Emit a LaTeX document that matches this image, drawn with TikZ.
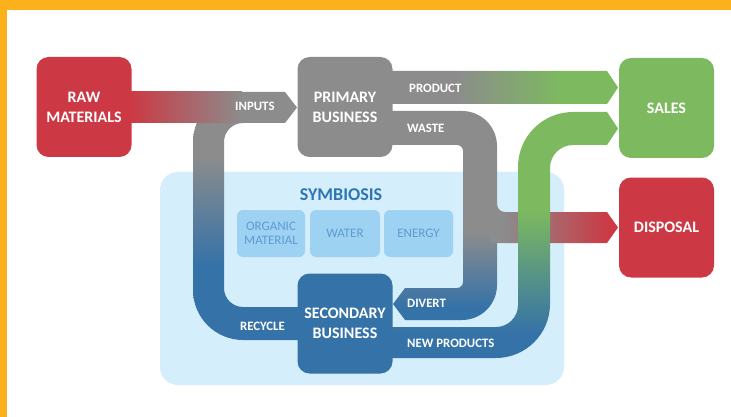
\documentclass[tikz,border=0pt]{standalone}
\usepackage{fontspec}
\setmainfont{Carlito}
\usepackage{tikz}

\definecolor{rawred}{HTML}{CC3944}
\definecolor{flowgray}{HTML}{8C8C8C}
\definecolor{salesgreen}{HTML}{7DB95F}
\definecolor{secblue}{HTML}{3572A8}
\definecolor{symbg}{HTML}{D5EEFB}
\definecolor{resfill}{HTML}{9ED2F2}
\definecolor{restext}{HTML}{5E9BCF}
\definecolor{symtitle}{HTML}{2E75B6}
\definecolor{frameorange}{HTML}{FBB11B}

\pgfdeclarehorizontalshading{productshade}{100bp}{color(0bp)=(flowgray); color(40bp)=(flowgray); color(63bp)=(salesgreen); color(100bp)=(salesgreen)}
\pgfdeclarehorizontalshading{disposalshade}{100bp}{color(0bp)=(flowgray); color(30bp)=(flowgray); color(72bp)=(rawred); color(100bp)=(rawred)}
\pgfdeclareverticalshading{recycleshade}{100bp}{color(0bp)=(secblue); color(40bp)=(secblue); color(62bp)=(flowgray); color(100bp)=(flowgray)}
\pgfdeclareverticalshading{wasteshade}{100bp}{color(0bp)=(secblue); color(28bp)=(secblue); color(46bp)=(flowgray); color(100bp)=(flowgray)}
\pgfdeclareverticalshading{newshade}{100bp}{color(0bp)=(secblue); color(30bp)=(secblue); color(55bp)=(salesgreen); color(100bp)=(salesgreen)}

\tikzset{
    bigbox/.style={rounded corners=12pt, minimum width=95pt, minimum height=100pt, inner sep=2pt,
        text=white, align=center, font=\fontsize{16}{20}\selectfont\bfseries},
    resbox/.style={fill=resfill, rounded corners=6pt, minimum width=68pt, minimum height=47pt, inner sep=1pt,
        text=restext, align=center, font=\fontsize{13}{13.5}\selectfont},
    flowlabel/.style={anchor=west, inner sep=0pt, text=white, font=\fontsize{12.8}{14}\selectfont\bfseries},
}

\begin{document}
\begin{tikzpicture}[x=1pt, y=-1pt]
    \useasboundingbox (0,0) rectangle (731,417);
    \fill[white] (0,0) rectangle (731,417);
    \fill[frameorange] (0,0) rectangle (731,10);
    \fill[frameorange] (0,0) rectangle (7,417);

    \node[fill=symbg, rounded corners=18pt, minimum width=404pt, minimum height=213pt] (symbiosis) at (362,278.5) {};
    \node[text=symtitle, font=\fontsize{18}{20}\selectfont\bfseries] (symlabel) at (341,195) {SYMBIOSIS};
    \node[resbox] (organic) at (271,233.5) {ORGANIC\\MATERIAL};
    \node[resbox, minimum width=70pt] (water) at (345,233.5) {WATER};
    \node[resbox, minimum width=69pt] (energy) at (418.5,233.5) {ENERGY};

    \shade[shading=recycleshade] (300,340) -- (243,340) arc[start angle=90, end angle=180, radius=50]
        -- (193,142) arc[start angle=180, end angle=270, radius=50]
        -- (285,92) -- (297,107.5) -- (285,123)
        -- (243,123) arc[start angle=270, end angle=180, radius=19]
        -- (224,288) arc[start angle=180, end angle=90, radius=19]
        -- (300,307) -- cycle;
    \shade[left color=rawred, right color=flowgray] (130,92) rectangle (242,123);

    \shade[shading=productshade] (385,71) -- (607,71) -- (618,87.5) -- (607,104) -- (385,104) -- cycle;

    \shade[shading=wasteshade] (385,111) -- (462,111) arc[start angle=270, end angle=360, radius=35]
        -- (497,285) arc[start angle=0, end angle=90, radius=35]
        -- (405,320) -- (393,304) -- (405,288)
        -- (457,288) arc[start angle=90, end angle=0, radius=6]
        -- (463,151) arc[start angle=0, end angle=-90, radius=6]
        -- (385,145) -- cycle;
    \shade[shading=disposalshade] (490,204) -- (497,204) arc[start angle=180, end angle=90, radius=8]
        -- (607,212) -- (618,227.5) -- (607,243) -- (490,243) -- cycle;

    \shade[shading=newshade] (390,327) -- (496,327) arc[start angle=90, end angle=0, radius=22]
        -- (518,167) arc[start angle=180, end angle=270, radius=55]
        -- (607,112) -- (618,128.5) -- (607,145)
        -- (573,145) arc[start angle=270, end angle=180, radius=23]
        -- (550,304) arc[start angle=0, end angle=90, radius=54]
        -- (390,358) -- cycle;

    \node[bigbox, fill=rawred] (raw) at (84,107) {RAW\\MATERIALS};
    \node[bigbox, fill=flowgray] (primary) at (345,107) {PRIMARY\\BUSINESS};
    \node[bigbox, fill=salesgreen] (sales) at (666.5,108) {SALES};
    \node[bigbox, fill=rawred] (disposal) at (666.5,227.5) {DISPOSAL};
    \node[bigbox, fill=secblue] (secondary) at (345,323.5) {SECONDARY\\BUSINESS};

    \node[flowlabel] (inputs) at (235,106) {INPUTS};
    \node[flowlabel] (product) at (409,88) {PRODUCT};
    \node[flowlabel] (waste) at (407,128) {WASTE};
    \node[flowlabel] (recycle) at (240,326) {RECYCLE};
    \node[flowlabel] (divert) at (407,303) {DIVERT};
    \node[flowlabel] (newprod) at (407,343) {NEW PRODUCTS};
\end{tikzpicture}
\end{document}
